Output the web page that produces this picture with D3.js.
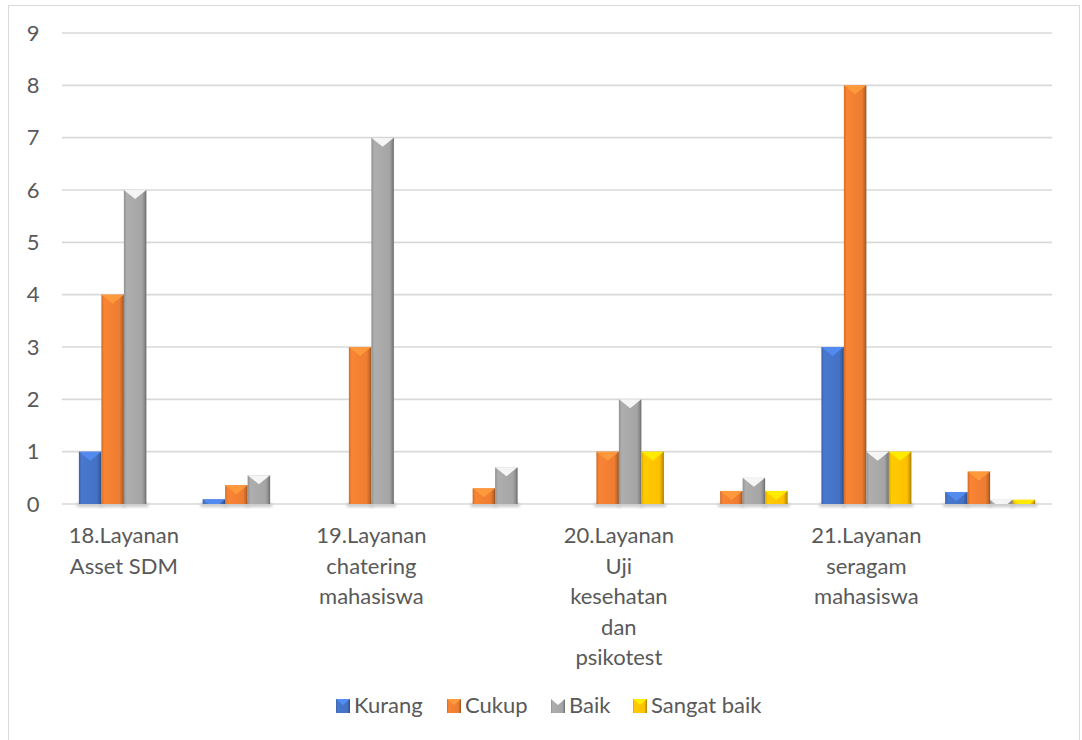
<!DOCTYPE html>
<html>
<head>
<meta charset="utf-8">
<script src="https://cdn.jsdelivr.net/npm/d3@7"></script>
<style>
  body { margin: 0; background: #fff; }
  svg { display: block; }
  .tick text, .label, .legend text { font-family: Lato, "Noto Sans", sans-serif; fill: #595959; }
</style>
</head>
<body>
<div id="chart"></div>
<script>
// categories (every second slot has no label in the original)
const categories = [
  ['18.Layanan', 'Asset SDM'],
  [],
  ['19.Layanan', 'chatering', 'mahasiswa'],
  [],
  ['20.Layanan', 'Uji', 'kesehatan', 'dan', 'psikotest'],
  [],
  ['21.Layanan', 'seragam', 'mahasiswa'],
  []
]
const seriesNames = ['Kurang', 'Cukup', 'Baik', 'Sangat baik']
const kurang = [1, 0.09, 0, 0, 0, 0, 3, 0.23]
const cukup = [4, 0.36, 3, 0.3, 1, 0.25, 8, 0.62]
const baik = [6, 0.55, 7, 0.7, 2, 0.5, 1, 0.08]
const sangatBaik = [0, 0, 0, 0, 1, 0.25, 1, 0.08]
const yTicks = [0, 1, 2, 3, 4, 5, 6, 7, 8, 9]

const colors = ['#4472C4', '#ED7D31', '#A5A5A5', '#FFC000']
const seriesValues = [kurang, cukup, baik, sangatBaik]

const width = 1082
const height = 740
const marginLeft = 62
const marginRight = 30
const plotTop = 33
const plotBottom = 504
const fontSize = 22

const svg = d3.select('#chart').append('svg')
  .attr('width', width)
  .attr('height', height)

// outer frame
svg.append('rect')
  .attr('x', 8.5).attr('y', 5.5)
  .attr('width', 1071).attr('height', 740)
  .attr('fill', 'none')
  .attr('stroke', '#d9d9d9')

const defs = svg.append('defs')
colors.forEach((c, i) => {
  const g = defs.append('linearGradient')
    .attr('id', `grad${i}`)
    .attr('x1', 0).attr('x2', 1).attr('y1', 0).attr('y2', 0)
  const base = d3.color(c)
  g.append('stop').attr('offset', '0%').attr('stop-color', base.darker(0.4))
  g.append('stop').attr('offset', '12%').attr('stop-color', base.brighter(0.15))
  g.append('stop').attr('offset', '80%').attr('stop-color', base)
  g.append('stop').attr('offset', '92%').attr('stop-color', base.darker(0.5))
  g.append('stop').attr('offset', '100%').attr('stop-color', base.darker(1.3))
})
const shadow = defs.append('filter').attr('id', 'shadow')
  .attr('x', '-20%').attr('y', '-50%').attr('width', '140%').attr('height', '200%')
shadow.append('feGaussianBlur').attr('stdDeviation', 1.5)

const x = d3.scaleBand()
  .domain(d3.range(categories.length))
  .range([marginLeft, width - marginRight])
  .paddingInner(0)
  .paddingOuter(0)

const y = d3.scaleLinear()
  .domain([0, 9])
  .range([plotBottom, plotTop])

// gridlines
svg.append('g')
  .selectAll('line')
  .data(yTicks)
  .join('line')
  .attr('x1', marginLeft)
  .attr('x2', width - marginRight)
  .attr('y1', d => y(d))
  .attr('y2', d => y(d))
  .attr('stroke', '#d9d9d9')
  .attr('stroke-width', 1.6)

// y axis labels
const yAxis = svg.append('g')
  .attr('transform', `translate(${marginLeft - 20},0)`)
  .call(d3.axisLeft(y).tickValues(yTicks).tickSize(0).tickPadding(0))
yAxis.select('.domain').remove()
yAxis.selectAll('text').attr('font-size', fontSize).attr('text-anchor', 'middle').attr('dx', -9)

// bars: Excel default gap width 150%
const barW = x.bandwidth() / (seriesNames.length + 1.5)
const groupOffset = (x.bandwidth() - barW * seriesNames.length) / 2
const barData = []
seriesValues.forEach((vals, s) => {
  vals.forEach((v, i) => {
    barData.push({ s, i, v })
  })
})
const nonZero = barData.filter(d => d.v > 0)
const barX = d => x(d.i) + groupOffset + d.s * barW

// soft shadows below base
svg.append('g')
  .selectAll('rect')
  .data(nonZero)
  .join('rect')
  .attr('x', d => barX(d) - 2)
  .attr('y', plotBottom - 1)
  .attr('width', barW + 4)
  .attr('height', 4)
  .attr('fill', '#c8c8c8')
  .attr('filter', 'url(#shadow)')

const bars = svg.append('g')
  .selectAll('g')
  .data(nonZero)
  .join('g')

bars.append('rect')
  .attr('x', barX)
  .attr('y', d => y(d.v))
  .attr('width', barW)
  .attr('height', d => y(0) - y(d.v))
  .attr('fill', d => `url(#grad${d.s})`)

// bevel highlight on top
bars.append('polygon')
  .attr('points', d => {
    const x0 = barX(d)
    const y0 = y(d.v)
    const h = y(0) - y(d.v)
    const depth = 9
    const t = Math.min(depth, h)
    const half = (barW / 2) * (1 - t / depth)
    const cx = x0 + barW / 2
    return [[x0, y0], [x0 + barW, y0], [cx + half, y0 + t], [cx - half, y0 + t]].join(' ')
  })
  .attr('fill', d => d3.color(colors[d.s]).brighter(d.s === 2 ? 1.2 : 0.6))
  .attr('opacity', 0.9)

// category labels
const labels = svg.append('g')
  .selectAll('text')
  .data(categories.map((lines, i) => ({ lines, i })))
  .join('text')
  .attr('class', 'label')
  .attr('text-anchor', 'middle')
  .attr('font-size', fontSize)
labels.selectAll('tspan')
  .data(d => d.lines.map(l => ({ l, i: d.i })))
  .join('tspan')
  .attr('x', d => x(d.i) + x.bandwidth() / 2)
  .attr('y', (d, j) => 543 + j * 30.5)
  .text(d => d.l)

// legend
const legendItems = [
  { name: seriesNames[0], x: 336 },
  { name: seriesNames[1], x: 447 },
  { name: seriesNames[2], x: 551 },
  { name: seriesNames[3], x: 633 }
]
const legend = svg.append('g').attr('class', 'legend')
const li = legend.selectAll('g')
  .data(legendItems)
  .join('g')
  .attr('transform', d => `translate(${d.x},699)`)
li.append('rect')
  .attr('width', 14).attr('height', 14)
  .attr('fill', (d, i) => `url(#grad${i})`)
li.append('polygon')
  .attr('points', '0,0 14,0 7,6')
  .attr('fill', (d, i) => d3.color(colors[i]).brighter(i === 2 ? 1.2 : 0.6))
li.append('text')
  .attr('x', 18)
  .attr('y', 14)
  .attr('font-size', fontSize)
  .text(d => d.name)
</script>
</body>
</html>
